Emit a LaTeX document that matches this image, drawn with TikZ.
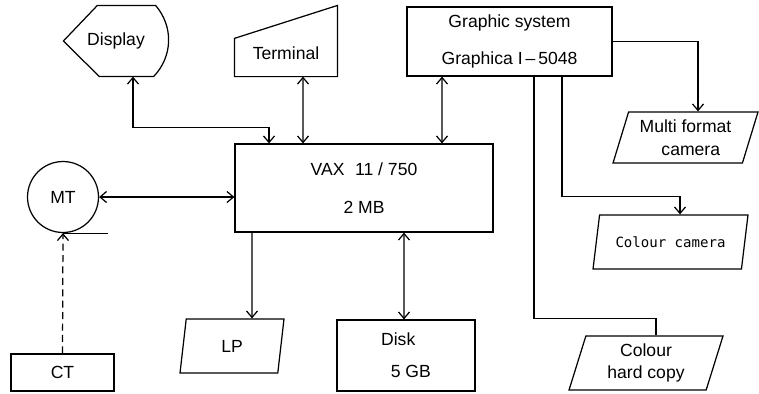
\documentclass[tikz,border=0pt]{standalone}
\usepackage{fontspec}
\setmainfont{Liberation Sans}
\newfontfamily\monofont{DejaVu Sans Mono}
\usetikzlibrary{arrows.meta,shapes.geometric}

\begin{document}
\begin{tikzpicture}[x=0.02cm,y=-0.02cm,line width=0.7pt,
  >={Straight Barb[length=1.3mm,width=2.2mm]},
  font=\fontsize{10}{12}\selectfont,
  box/.style={draw,rectangle,inner sep=0pt,align=center},
  io/.style={draw,trapezium,trapezium left angle=70,trapezium right angle=110,
    trapezium stretches body,inner sep=2pt,align=center}]
  \useasboundingbox (0,0) rectangle (759,393);
  % computer and storage
  \node[box,minimum width=5.16cm,minimum height=1.76cm] (vax) at (364,188) {VAX\hspace{0.6em}11 / 750\\[10pt]2 MB};
  \node[box,minimum width=2.76cm,minimum height=1.42cm,align=left] (disk) at (406,355.5) {Disk\\[6pt]\hspace{0.55em}5 GB};
  \node[draw,circle,minimum size=1.42cm,inner sep=0pt] (mt) at (63,197) {MT};
  \node[box,minimum width=2.06cm,minimum height=0.74cm] (ct) at (62.5,372.5) {CT};
  % display and terminal
  \node[minimum width=2.08cm,minimum height=1.4cm,inner sep=0pt] (display) at (116,41) {Display};
  \draw (display.west) -- ([xshift=0.68cm]display.north west) -- ([xshift=-0.26cm]display.north east)
    to[bend left=42] ([xshift=-0.3cm]display.south east) -- ([xshift=0.72cm]display.south west) -- cycle;
  \node[minimum width=2.04cm,minimum height=0.92cm,inner sep=0pt] (term) at (286,53) {Terminal};
  \draw ([yshift=-0.18cm]term.north west) -- ([yshift=0.48cm]term.north east) -- (term.south east)
    -- (term.south west) -- cycle;
  % graphic system and outputs
  \node[box,minimum width=4.1cm,minimum height=1.38cm] (gfx) at (509.5,41.5) {Graphic system\\[9pt]Graphica I\,--\,5048};
  \node[io,minimum width=2.9cm,minimum height=1.02cm] (multi) at (685.5,137.5) {Multi format\\[1pt]\hspace{0.6em}camera};
  \node[io,minimum width=3.1cm,minimum height=1.08cm,font=\monofont\fontsize{8}{10}\selectfont] (ccam) at (670.5,242) {Colour camera};
  \node[io,minimum width=3.08cm,minimum height=1.08cm] (hcopy) at (646,363) {Colour\\[1pt]hard copy};
  \node[io,trapezium left angle=72,trapezium right angle=108,minimum width=2.08cm,minimum height=1.08cm] (lp) at (232,346) {LP};
  % connections
  \draw[<->] ([xshift=0.34cm]display.south) -- ++(0,51) -| ([xshift=-1.9cm]vax.north);
  \draw[<->] ([xshift=0.34cm]term.south) -- ([xshift=-1.22cm]vax.north);
  \draw[<->] ([xshift=-1.35cm]gfx.south) -- ([xshift=1.56cm]vax.north);
  \draw[<->] (mt.east) -- (mt.east -| vax.west);
  \draw[->] ([xshift=-2.24cm]vax.south) -- ([xshift=0.4cm]lp.north);
  \draw[<->] ([xshift=0.8cm]vax.south) -- ([xshift=-0.04cm]disk.north);
  \draw[->,dash pattern=on 4pt off 2.5pt] (ct.north) -- (mt.south);
  \draw (mt.south) -- ++(45,0);
  \draw[->] (gfx.east) -| ([xshift=0.25cm]multi.north);
  \draw[->] ([xshift=1.05cm]gfx.south) -- ++(0,120) -| ([xshift=0.19cm]ccam.north);
  \draw ([xshift=0.49cm]gfx.south) -- ++(0,242) -| ([xshift=0.2cm]hcopy.north);
\end{tikzpicture}
\end{document}
